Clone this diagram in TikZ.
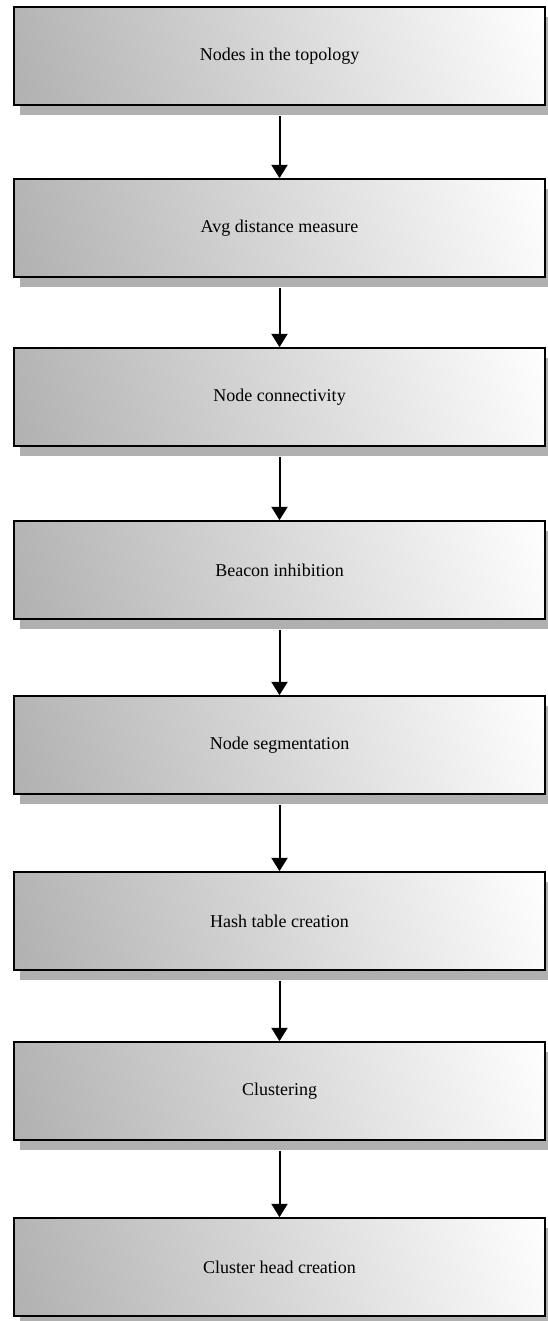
\documentclass[tikz,border=0pt]{standalone}
\usepackage{fontspec}
\setmainfont{Liberation Serif}
\usetikzlibrary{arrows.meta,shadows}
\pgfdeclareverticalshading{stagefade}{100bp}{color(0bp)=(gray!62); color(18bp)=(gray!62); color(82bp)=(white); color(100bp)=(white)}

\begin{document}
\begin{tikzpicture}[x=0.75pt, y=0.75pt,
    stage/.style ={rectangle, draw, line width=1.7pt, minimum width=398pt, minimum height=73pt,
      shading=stagefade, shading angle=-72,
      drop shadow={shadow xshift=4.5pt, shadow yshift=-7.5pt, fill=gray!62, opacity=1},
      font=\fontsize{13.5}{16}\selectfont},
    flow/.style ={line width=1.5pt, -{Triangle[width=12pt, length=10pt]}, shorten <=7.5pt}]
   \useasboundingbox (0,0) rectangle (547,1321);
   \node[stage] (N1) at (279.5,1265) {Nodes in the topology};
   \node[stage] (N2) at (279.5,1093) {Avg distance measure};
   \node[stage] (N3) at (279.5,924)  {Node connectivity};
   \node[stage] (N4) at (279.5,751)  {Beacon inhibition};
   \node[stage] (N5) at (279.5,576)  {Node segmentation};
   \node[stage] (N6) at (279.5,400)  {Hash table creation};
   \node[stage] (N7) at (279.5,230)  {Clustering};
   \node[stage] (N8) at (279.5,54)   {Cluster head creation};

   \draw[flow] (N1) to (N2);
   \draw[flow] (N2) to (N3);
   \draw[flow] (N3) to (N4);
   \draw[flow] (N4) to (N5);
   \draw[flow] (N5) to (N6);
   \draw[flow] (N6) to (N7);
   \draw[flow] (N7) to (N8);

 \end{tikzpicture}
\end{document}
